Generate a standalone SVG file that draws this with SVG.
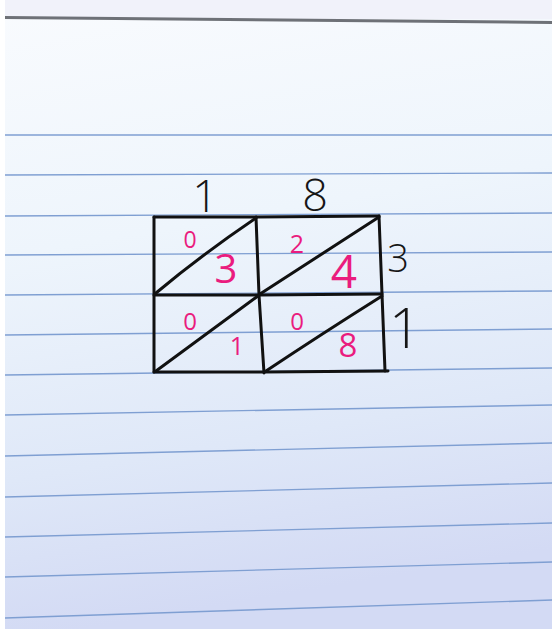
<svg xmlns="http://www.w3.org/2000/svg" width="552" height="629" viewBox="0 0 552 629">
<defs>
<linearGradient id="paper" x1="0" y1="0" x2="0.15" y2="1">
<stop offset="0" stop-color="#f9fbfe"/>
<stop offset="0.4" stop-color="#eef5fc"/>
<stop offset="0.75" stop-color="#dfe8f8"/>
<stop offset="1" stop-color="#d3daf4"/>
</linearGradient>
<style>
.rule{stroke:#7f9fd2;stroke-width:1.4;fill:none}
.ink{stroke:#111;stroke-width:3;fill:none;stroke-linecap:round;stroke-linejoin:round}
.blk{font-family:"Open Sans","Liberation Sans",sans-serif;font-weight:300;fill:#161616}
.pink{font-family:"Open Sans","Liberation Sans",sans-serif;font-weight:400;fill:#ea1c7e}
</style>
</defs>
<rect width="552" height="629" fill="url(#paper)"/>
<rect x="0" y="0" width="552" height="19" fill="#f1f2fa"/>
<rect x="0" y="0" width="5" height="629" fill="#ffffff"/>
<path d="M5 17.5 L552 22.5" stroke="#6e7177" stroke-width="3" fill="none"/>
<g id="rules">
<path class="rule" d="M5 135 L552 135"/>
<path class="rule" d="M5 175 L552 173"/>
<path class="rule" d="M5 216 L552 213"/>
<path class="rule" d="M5 255 L552 252"/>
<path class="rule" d="M5 295 L552 291"/>
<path class="rule" d="M5 335 L552 329"/>
<path class="rule" d="M5 375 L552 368"/>
<path class="rule" d="M5 415 L552 405"/>
<path class="rule" d="M5 456 L552 443"/>
<path class="rule" d="M5 497 L552 483"/>
<path class="rule" d="M5 537 L552 523"/>
<path class="rule" d="M5 577 L552 562"/>
<path class="rule" d="M5 618 L552 600"/>
</g>
<g id="connectors">
<path class="ink" d="M154 217 L257 217 L379 216"/>
<path class="ink" d="M154 217 L154 372"/>
<path class="ink" d="M256 217 L259 295 L264 373"/>
<path class="ink" d="M379 216 L382 294 L385 371"/>
<path class="ink" d="M154 295 L259 295 L382 294"/>
<path class="ink" d="M154 372 L264 372 L388 371"/>
</g>
<g id="cell-top-left">
<path class="ink" d="M156 293 Q200 256 256 218"/>
<text class="pink" x="190" y="248" font-size="23" text-anchor="middle">0</text>
<text class="pink" x="226" y="283" font-size="40" text-anchor="middle">3</text>
</g>
<g id="cell-top-right">
<path class="ink" d="M260 294 Q320 255 379 217"/>
<text class="pink" x="297" y="253" font-size="25" text-anchor="middle">2</text>
<text class="pink" x="344" y="288" font-size="46" text-anchor="middle">4</text>
</g>
<g id="cell-bottom-left">
<path class="ink" d="M156 371 Q205 335 258 296"/>
<text class="pink" x="190" y="330" font-size="24" text-anchor="middle">0</text>
<text class="pink" x="237" y="355" font-size="25" text-anchor="middle">1</text>
</g>
<g id="cell-bottom-right">
<path class="ink" d="M266 371 Q320 335 382 296"/>
<text class="pink" x="297" y="330" font-size="24" text-anchor="middle">0</text>
<text class="pink" x="348" y="357" font-size="33" text-anchor="middle">8</text>
</g>
<g id="labels">
<text class="blk" x="205" y="212" font-size="45" text-anchor="middle">1</text>
<text class="blk" x="315" y="211" font-size="45" text-anchor="middle">8</text>
<text class="blk" x="398" y="272" font-size="38" text-anchor="middle">3</text>
<text class="blk" x="405" y="348" font-size="56" text-anchor="middle">1</text>
</g>
</svg>
